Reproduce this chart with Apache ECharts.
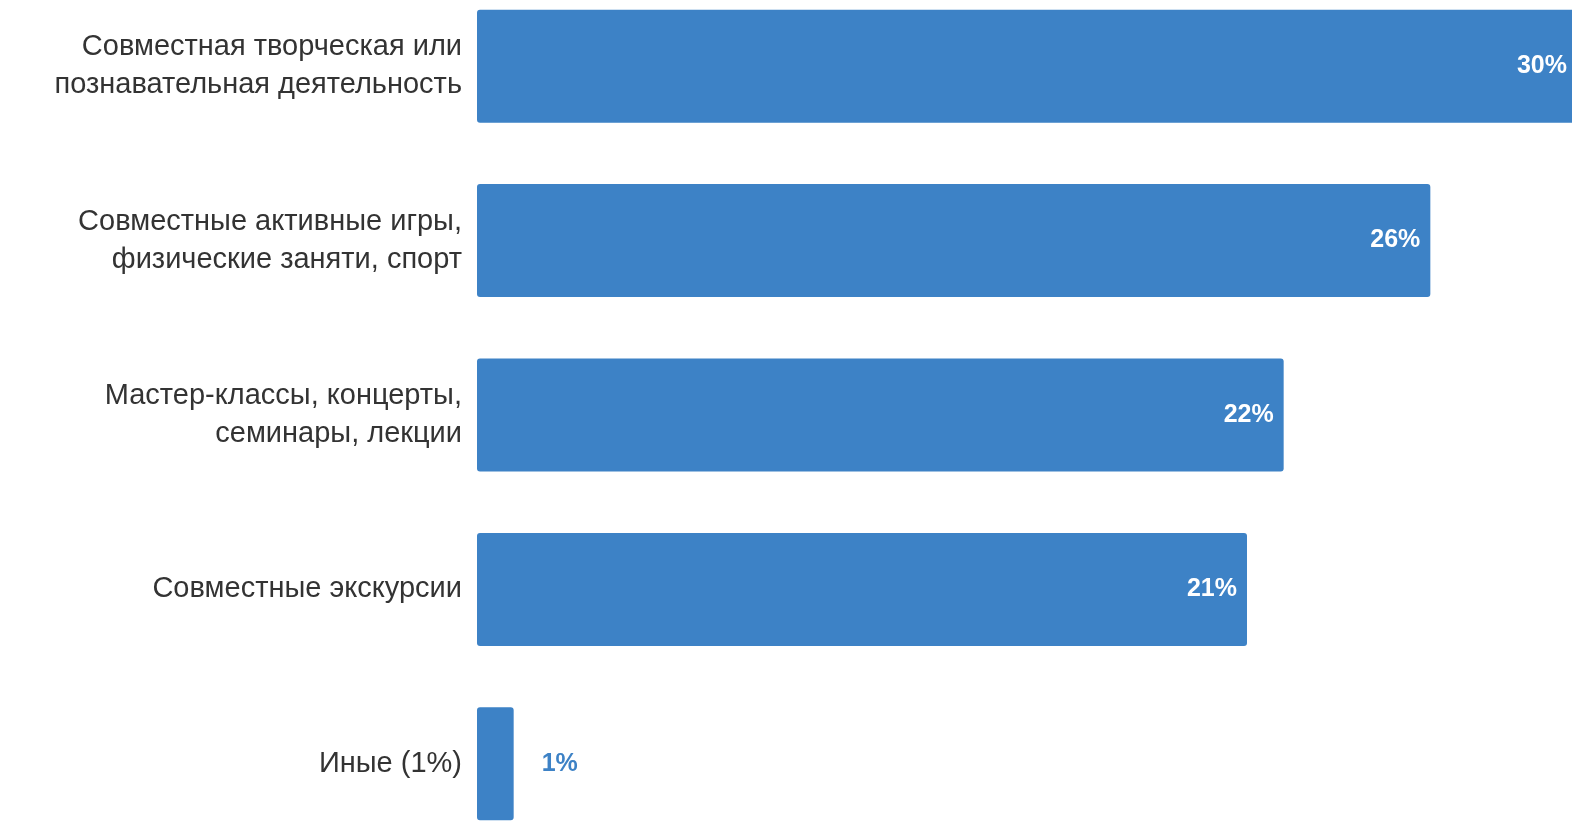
<!DOCTYPE html>
<html><head><meta charset="utf-8">
<script src="https://cdn.jsdelivr.net/npm/echarts@6/dist/echarts.min.js"></script>
<style>html,body{margin:0;padding:0;background:#fff;overflow:hidden;width:1572px;height:822px;position:relative}#c{position:absolute;left:0;top:-30px;width:1600px;height:900px}</style>
</head><body><div id="c"></div>
<script>
var categories = [
  'Совместная творческая или\nпознавательная деятельность',
  'Совместные активные игры,\nфизические заняти, спорт',
  'Мастер-классы, концерты,\nсеминары, лекции',
  'Совместные экскурсии',
  'Иные (1%)'
];
var values = [30, 26, 22, 21, 1];

var FONT = 'Liberation Sans';
var chart = echarts.init(document.getElementById('c'));
var data = values.map(function (v) {
  var small = v < 5;
  return {
    value: v,
    label: small ? {position: 'right', distance: 28, color: '#3d82c6'} : {position: 'insideRight', distance: 10, color: '#ffffff'}
  };
});
chart.setOption({
  animation: false,
  grid: {left: 477, top: 9, width: 1100, height: 872},
  xAxis: {type: 'value', min: 0, max: 30, show: false},
  yAxis: {
    type: 'category', inverse: true, data: categories,
    axisLine: {show: false}, axisTick: {show: false},
    axisLabel: {fontFamily: FONT, fontSize: 29, color: '#333333', lineHeight: 38, margin: 15, align: 'right'}
  },
  series: [{
    type: 'bar', data: data, barWidth: 113,
    itemStyle: {color: '#3d82c6', borderRadius: 3},
    label: {show: true, formatter: '{c}%', fontFamily: FONT, fontSize: 25, fontWeight: 'bold'}
  }]
});
</script></body></html>
